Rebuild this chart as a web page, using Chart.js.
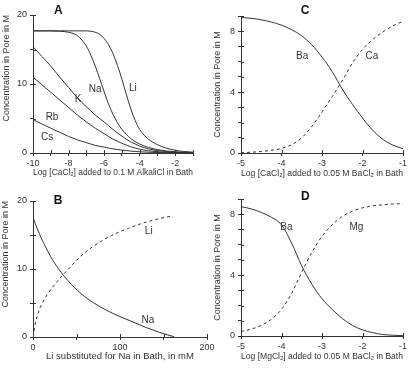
<!DOCTYPE html>
<html>
<head>
<meta charset="utf-8">
<script src="https://cdn.jsdelivr.net/npm/chart.js@4/dist/chart.umd.min.js"></script>
<style>
  body { margin: 0; background: #fff; }
  #wrap { position: relative; width: 411px; height: 368px; }
  canvas { position: absolute; }
</style>
</head>
<body>
<div id="wrap">
  <canvas id="cA" width="205" height="184" style="left:0;top:0"></canvas>
  <canvas id="cC" width="206" height="184" style="left:205px;top:0"></canvas>
  <canvas id="cB" width="220" height="184" style="left:0;top:184px"></canvas>
  <canvas id="cD" width="206" height="184" style="left:205px;top:184px"></canvas>
</div>
<script>
/* ===== DATA ===== */
// A: log [CaCl2] vs alkali cation conc. in pore
const aLogCa = [-10, -9.5, -9, -8.5, -8, -7.5, -7, -6.75, -6.5, -6.25, -6, -5.75, -5.5, -5.25, -5, -4.75, -4.5, -4.25, -4, -3.5, -3, -2.5, -2, -1.5, -1];
const aLi = [17.7, 17.7, 17.7, 17.7, 17.7, 17.7, 17.7, 17.65, 17.5, 17.2, 16.6, 15.7, 14.4, 12.7, 10.7, 8.5, 6.4, 4.7, 3.4, 2.0, 1.2, 0.7, 0.4, 0.22, 0.12];
const aNa = [17.7, 17.7, 17.7, 17.65, 17.5, 17.0, 15.5, 14.2, 12.6, 10.8, 8.9, 7.1, 5.6, 4.4, 3.4, 2.7, 2.1, 1.65, 1.3, 0.8, 0.5, 0.3, 0.18, 0.1, 0.06];
const aK  = [15.4, 14.0, 12.6, 11.0, 9.5, 8.0, 6.7, 6.1, 5.5, 5.0, 4.5, 3.95, 3.4, 2.9, 2.45, 2.0, 1.6, 1.3, 1.0, 0.6, 0.35, 0.2, 0.1, 0.05, 0.03];
const aRb = [11.0, 9.9, 8.8, 7.7, 6.6, 5.5, 4.5, 4.05, 3.6, 3.2, 2.8, 2.4, 2.0, 1.7, 1.4, 1.15, 0.9, 0.72, 0.55, 0.32, 0.18, 0.1, 0.05, 0.03, 0.02];
const aCs = [4.85, 4.2, 3.6, 3.0, 2.4, 1.9, 1.5, 1.3, 1.1, 0.97, 0.85, 0.72, 0.6, 0.5, 0.42, 0.35, 0.28, 0.22, 0.18, 0.11, 0.07, 0.05, 0.03, 0.02, 0.01];

// B: Li substituted for Na (mM)
const bNaX = [0, 5, 10, 20, 30, 40, 55, 70, 85, 100, 115, 130, 145, 155, 162];
const bNa  = [17.6, 15.9, 14.4, 11.9, 9.9, 8.3, 6.4, 5.0, 3.9, 3.0, 2.2, 1.4, 0.7, 0.3, 0.05];
const bLiX = [0, 3, 7, 12, 20, 30, 40, 55, 70, 90, 110, 130, 145, 160];
const bLi  = [0, 2.2, 3.9, 5.3, 6.9, 8.5, 9.9, 11.9, 13.4, 14.9, 16.0, 16.9, 17.4, 17.8];

// C / D: log [CaCl2] or [MgCl2] added to 0.05 M BaCl2
const cdLog = [-5, -4.75, -4.5, -4.25, -4, -3.75, -3.5, -3.25, -3, -2.75, -2.5, -2.25, -2, -1.75, -1.5, -1.25, -1];
const cBa = [8.9, 8.85, 8.75, 8.6, 8.4, 8.1, 7.7, 7.1, 6.3, 5.35, 4.2, 3.2, 2.3, 1.5, 0.9, 0.52, 0.28];
const cCa = [0.02, 0.05, 0.1, 0.18, 0.3, 0.55, 1.0, 1.75, 2.7, 3.7, 4.75, 5.9, 6.8, 7.45, 7.95, 8.35, 8.65];
const dBa = [8.5, 8.35, 8.12, 7.8, 7.3, 6.1, 4.6, 3.4, 2.45, 1.75, 1.15, 0.7, 0.4, 0.22, 0.1, 0.05, 0.02];
const dMg = [0.3, 0.45, 0.7, 1.1, 1.75, 2.8, 4.2, 5.5, 6.55, 7.3, 7.85, 8.2, 8.42, 8.55, 8.62, 8.67, 8.7];

// curve names [text, x, y] in data units
const aTags = [['Li', -4.38, 9.4], ['Na', -6.5, 9.3], ['K', -7.47, 7.8], ['Rb', -8.93, 5.2], ['Cs', -9.2, 2.3]];
const bTags = [['Li', 133, 15.5], ['Na', 132, 2.5]];
const cTags = [['Ba', -3.49, 6.36], ['Ca', -1.77, 6.36]];
const dTags = [['Ba', -3.88, 7.17], ['Mg', -2.15, 7.17]];

/* ===== STYLE ===== */
const INK = '#333';
const FONT = "'Liberation Sans', Arial, sans-serif";
Chart.defaults.font.family = FONT;
Chart.defaults.color = '#333';

function series(xs, ys, dashed) {
  return {
    data: xs.map((x, i) => ({ x: x, y: ys[i] })),
    borderColor: INK, borderWidth: 1,
    borderDash: dashed ? [3, 3] : [],
    pointRadius: 0, fill: false,
    cubicInterpolationMode: 'monotone'
  };
}

// short tick marks on the inner side of the axes + curve names + panel letter
const decor = {
  id: 'decor',
  afterDraw(chart, args, opts) {
    const ctx = chart.ctx, a = chart.chartArea;
    const sx = chart.scales.x, sy = chart.scales.y;
    ctx.save();
    ctx.strokeStyle = INK; ctx.lineWidth = 1;
    sx.ticks.forEach(t => {
      const p = Math.round(sx.getPixelForValue(t.value)) + 0.5;
      ctx.beginPath(); ctx.moveTo(p, a.bottom); ctx.lineTo(p, a.bottom - 3); ctx.stroke();
    });
    sy.ticks.forEach(t => {
      const p = Math.round(sy.getPixelForValue(t.value)) + 0.5;
      ctx.beginPath(); ctx.moveTo(a.left, p); ctx.lineTo(a.left + 3, p); ctx.stroke();
    });
    ctx.fillStyle = '#333';
    ctx.textAlign = 'center'; ctx.textBaseline = 'middle';
    ctx.font = '10px ' + FONT;
    (opts.tags || []).forEach(t => {
      ctx.fillText(t[0], sx.getPixelForValue(t[1]), sy.getPixelForValue(t[2]));
    });
    if (opts.letter) {
      ctx.font = 'bold 12px ' + FONT;
      ctx.fillStyle = '#111';
      ctx.fillText(opts.letter[0], sx.getPixelForValue(opts.letter[1]), sy.getPixelForValue(opts.letter[2]));
    }
    ctx.restore();
  }
};

function panel(id, p) {
  new Chart(document.getElementById(id), {
    type: 'line',
    data: { datasets: p.datasets },
    options: {
      responsive: false, animation: false,
      layout: { padding: { top: p.padTop, right: p.padRight, left: 0, bottom: 0 } },
      plugins: {
        legend: { display: false }, tooltip: { enabled: false },
        decor: { tags: p.tags, letter: p.letter }
      },
      scales: {
        x: {
          type: 'linear', min: p.xMin, max: p.xMax,
          border: { color: INK, width: 1 },
          grid: { drawOnChartArea: false, color: INK, tickLength: 3 },
          ticks: { stepSize: p.xStep, autoSkip: false, maxRotation: 0, padding: 2,
                   font: { size: 9 }, callback: p.xLabel },
          title: { display: true, text: p.xTitle, font: { size: 9.5 }, padding: { top: 0, bottom: p.xTitlePad } },
          afterFit: s => { s.height = p.xH; }
        },
        y: {
          type: 'linear', min: 0, max: p.yMax,
          border: { color: INK, width: 1 },
          grid: { drawOnChartArea: false, color: INK, tickLength: 3 },
          ticks: { stepSize: p.yStep, autoSkip: false, padding: 3,
                   font: { size: 9 }, callback: p.yLabel },
          title: { display: true, text: 'Concentration in Pore in M', align: p.yAlign,
                   font: { size: 9 }, padding: { top: p.yTitlePad, bottom: 0 } },
          afterFit: s => { s.width = p.yW; }
        }
      }
    },
    plugins: [decor]
  });
}

const every = n => v => (Math.abs(v % n) < 1e-9 ? v : '');

/* ===== A ===== */
panel('cA', {
  datasets: [series(aLogCa, aLi), series(aLogCa, aNa), series(aLogCa, aK), series(aLogCa, aRb), series(aLogCa, aCs)],
  tags: aTags, letter: ['A', -8.58, 20.6],
  xMin: -10, xMax: -1, xStep: 1, xLabel: every(2),
  yMax: 20, yStep: 5, yLabel: every(10),
  xTitle: 'Log [CaCl\u2082] added to 0.1 M AlkaliCl in Bath',
  padTop: 15, padRight: 12, xH: 31, yW: 33, xTitlePad: 5.6, yTitlePad: 1, yAlign: 'end'
});

/* ===== C ===== */
panel('cC', {
  datasets: [series(cdLog, cBa), series(cdLog, cCa, true)],
  tags: cTags, letter: ['C', -3.42, 9.33],
  xMin: -5, xMax: -1, xStep: 1, xLabel: v => v,
  yMax: 9, yStep: 1, yLabel: every(4),
  xTitle: 'Log [CaCl\u2082] added to 0.05 M BaCl\u2082 in Bath',
  padTop: 16, padRight: 8, xH: 31, yW: 36, xTitlePad: 4.6, yTitlePad: 7.6, yAlign: 'center'
});

/* ===== B ===== */
panel('cB', {
  datasets: [series(bNaX, bNa), series(bLiX, bLi, true)],
  tags: bTags, letter: ['B', 28.7, 20.1],
  xMin: 0, xMax: 200, xStep: 50, xLabel: every(100),
  yMax: 20, yStep: 5, yLabel: every(10),
  xTitle: 'Li substituted for Na in Bath, in mM',
  padTop: 17, padRight: 13, xH: 31, yW: 33, xTitlePad: 6, yTitlePad: 0, yAlign: 'end'
});

/* ===== D ===== */
panel('cD', {
  datasets: [series(cdLog, dBa), series(cdLog, dMg, true)],
  tags: dTags, letter: ['D', -3.41, 9.15],
  xMin: -5, xMax: -1, xStep: 1, xLabel: v => v,
  yMax: 9, yStep: 1, yLabel: every(4),
  xTitle: 'Log [MgCl\u2082] added to 0.05 M BaCl\u2082 in Bath',
  padTop: 15, padRight: 8, xH: 32, yW: 36, xTitlePad: 5.6, yTitlePad: 7.6, yAlign: 'center'
});
</script>
</body>
</html>
